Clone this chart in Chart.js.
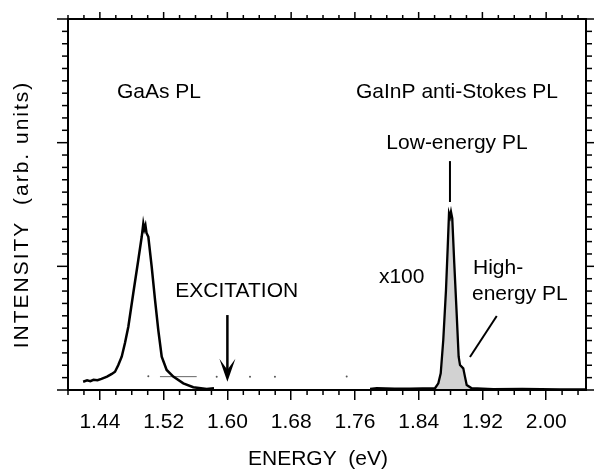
<!DOCTYPE html>
<html>
<head>
<meta charset="utf-8">
<script src="https://cdn.jsdelivr.net/npm/chart.js@4"></script>
<style>
  html, body { margin: 0; padding: 0; background: #fff; }
  #wrap { width: 594px; height: 476px; }
</style>
</head>
<body>
<div id="wrap"><canvas id="plChart"></canvas></div>
<script>
// PL spectra: GaAs band-edge PL and GaInP anti-Stokes PL (x100)

const xTickValues = [1.44, 1.52, 1.60, 1.68, 1.76, 1.84, 1.92, 2.00];
const yMajorValues = [0, 1, 2, 3];

const gaasEnergy = [1.419, 1.424, 1.428, 1.432, 1.437, 1.442, 1.449, 1.455, 1.459, 1.463, 1.4674, 1.4715,
  1.4757, 1.4819, 1.4882, 1.4925, 1.4945, 1.4958, 1.4972, 1.4985, 1.5008, 1.505, 1.5092, 1.5133, 1.5176,
  1.5238, 1.5321, 1.5447, 1.5572, 1.574, 1.5832];
const gaasIntensity = [0.067, 0.078, 0.072, 0.083, 0.079, 0.09, 0.108, 0.13, 0.148, 0.2, 0.269, 0.38,
  0.512, 0.782, 1.051, 1.239, 1.345, 1.30, 1.33, 1.27, 1.239, 0.997, 0.728, 0.485, 0.269,
  0.162, 0.108, 0.054, 0.022, 0.008, 0.014];

const gainpEnergy = [1.779, 1.7874, 1.81, 1.8291, 1.845, 1.8605, 1.8647, 1.8677, 1.8709, 1.8743, 1.8765,
  1.8781, 1.8794, 1.8806, 1.8822, 1.8847, 1.8877, 1.8902, 1.8919, 1.896, 1.8981, 1.9003, 1.9066, 1.9337,
  1.97, 2.0174, 2.05];
const gainpIntensity = [0.008, 0.014, 0.01, 0.011, 0.012, 0.014, 0.054, 0.135, 0.404, 0.808, 1.158,
  1.428, 1.40, 1.441, 1.388, 1.024, 0.62, 0.269, 0.202, 0.175, 0.108, 0.04, 0.014, 0.006,
  0.008, 0.004, 0.005];

// faint baseline specks of the x100 trace
const dashEnergy = [1.5154, 1.5615];
const dashIntensity = [0.108, 0.108];
const dotEnergy = [1.5008, 1.5866, 1.6284, 1.6597, 1.7497];
const dotIntensity = [0.112, 0.108, 0.108, 0.108, 0.11];

const X_MIN = 1.40, X_MAX = 2.05, X_MINOR = 0.02;
const Y_MIN = 0, Y_MAX = 3, Y_MINOR = 0.1;

const FONT = '"Liberation Sans", Arial, Helvetica, sans-serif';

const pts = (xs, ys) => xs.map((x, i) => ({ x, y: ys[i] }));

const near = (list, v) => list.some(t => Math.abs(t - v) < 1e-6);

function line(ctx, x1, y1, x2, y2) {
  ctx.beginPath(); ctx.moveTo(x1, y1); ctx.lineTo(x2, y2); ctx.stroke();
}

const frameTicks = {
  id: 'frameTicks',
  afterDraw(chart) {
    const { ctx, chartArea: a, scales: { x, y } } = chart;
    ctx.save();
    ctx.strokeStyle = '#000';
    ctx.lineWidth = 2;
    ctx.strokeRect(a.left, a.top, a.right - a.left, a.bottom - a.top);
    ctx.lineWidth = 1.5;
    const nx = Math.round((X_MAX - X_MIN) / X_MINOR);
    for (let i = 0; i <= nx; i++) {
      const v = +(X_MIN + i * X_MINOR).toFixed(3);
      const px = x.getPixelForValue(v);
      const major = near(xTickValues, v);
      if (!major) line(ctx, px, a.bottom, px, a.bottom + 5);
      line(ctx, px, a.top, px, a.top - (major ? 7 : 4));
    }
    const ny = Math.round((Y_MAX - Y_MIN) / Y_MINOR);
    for (let i = 0; i <= ny; i++) {
      const v = +(Y_MIN + i * Y_MINOR).toFixed(3);
      const py = y.getPixelForValue(v);
      const len = near(yMajorValues, v) ? 11 : 6;
      line(ctx, a.left, py, a.left - len, py);
      line(ctx, a.right, py, a.right + len, py);
    }
    ctx.restore();
  }
};

const labels = {
  id: 'labels',
  afterDatasetsDraw(chart) {
    const { ctx, chartArea: a, scales: { x, y } } = chart;
    const X = v => x.getPixelForValue(v), Y = v => y.getPixelForValue(v);
    ctx.save();
    ctx.fillStyle = '#000';
    ctx.strokeStyle = '#000';
    ctx.font = `21px ${FONT}`;
    ctx.textBaseline = 'middle';
    ctx.textAlign = 'center';
    ctx.fillText('GaAs PL', X(1.5142), Y(2.409));
    ctx.fillText('GaInP anti-Stokes PL', X(1.8881), Y(2.409));
    ctx.fillText('Low-energy PL', X(1.8881), Y(1.997));
    ctx.fillText('x100', X(1.8187), Y(0.9135));
    ctx.fillText('EXCITATION', X(1.6117), Y(0.80));
    ctx.textAlign = 'left';
    ctx.fillText('High-', X(1.9082), Y(0.986));
    ctx.fillText('energy PL', X(1.9069), Y(0.776));

    ctx.lineWidth = 2;
    line(ctx, X(1.8793), Y(1.851), X(1.8793), Y(1.52));
    line(ctx, X(1.938), Y(0.598), X(1.9044), Y(0.267));

    // excitation arrow at 1.60 eV
    const ax = X(1.60), top = Y(0.606), tip = Y(0.067);
    ctx.lineWidth = 2.5;
    line(ctx, ax, top, ax, tip - 8);
    ctx.beginPath();
    ctx.moveTo(ax - 8, tip - 23);
    ctx.lineTo(ax, tip);
    ctx.lineTo(ax + 8, tip - 23);
    ctx.lineTo(ax, tip - 12);
    ctx.closePath();
    ctx.fill();

    // axis titles
    ctx.textAlign = 'center';
    ctx.fillText('ENERGY  (eV)', (a.left + a.right) / 2 - 9, a.bottom + 69);
    ctx.translate(a.left - 46, (a.top + a.bottom) / 2 + 10);
    ctx.rotate(-Math.PI / 2);
    ctx.letterSpacing = '2px';
    ctx.fillText('INTENSITY  (arb. units)', 0, 0);
    ctx.restore();
  }
};

new Chart(document.getElementById('plChart'), {
  type: 'scatter',
  data: {
    datasets: [
      {
        label: 'GaAs PL',
        data: pts(gaasEnergy, gaasIntensity),
        showLine: true,
        borderColor: '#000',
        borderWidth: 2.5,
        pointRadius: 0,
        tension: 0,
      },
      {
        label: 'GaInP anti-Stokes PL x100',
        data: pts(gainpEnergy, gainpIntensity),
        showLine: true,
        borderColor: '#000',
        borderWidth: 2.3,
        backgroundColor: '#d2d2d2',
        fill: 'origin',
        pointRadius: 0,
        tension: 0,
      },
      {
        label: 'baseline dash',
        data: pts(dashEnergy, dashIntensity),
        showLine: true,
        borderColor: '#666',
        borderWidth: 1,
        pointRadius: 0,
      },
      {
        label: 'baseline dots',
        data: pts(dotEnergy, dotIntensity),
        showLine: false,
        pointRadius: 1,
        pointBorderWidth: 0,
        pointBackgroundColor: '#555',
      },
    ]
  },
  options: {
    responsive: true,
    maintainAspectRatio: false,
    animation: false,
    layout: { padding: { top: 19, right: 8, left: 0, bottom: 0 } },
    plugins: { legend: { display: false }, tooltip: { enabled: false } },
    scales: {
      x: {
        type: 'linear',
        min: X_MIN,
        max: X_MAX,
        afterBuildTicks: s => { s.ticks = xTickValues.map(v => ({ value: v })); },
        afterFit: s => { s.height = 86; },
        ticks: {
          autoSkip: false,
          maxRotation: 0,
          padding: 10,
          color: '#000',
          font: { family: FONT, size: 21 },
          callback: v => v.toFixed(2),
        },
        grid: { display: true, drawOnChartArea: false, drawTicks: true, tickLength: 10, color: '#000', lineWidth: 1.5 },
        border: { display: false },
      },
      y: {
        type: 'linear',
        min: Y_MIN,
        max: Y_MAX,
        afterFit: s => { s.width = 68; },
        ticks: { display: false },
        grid: { display: false },
        border: { display: false },
      }
    }
  },
  plugins: [labels, frameTicks]
});
</script>
</body>
</html>
